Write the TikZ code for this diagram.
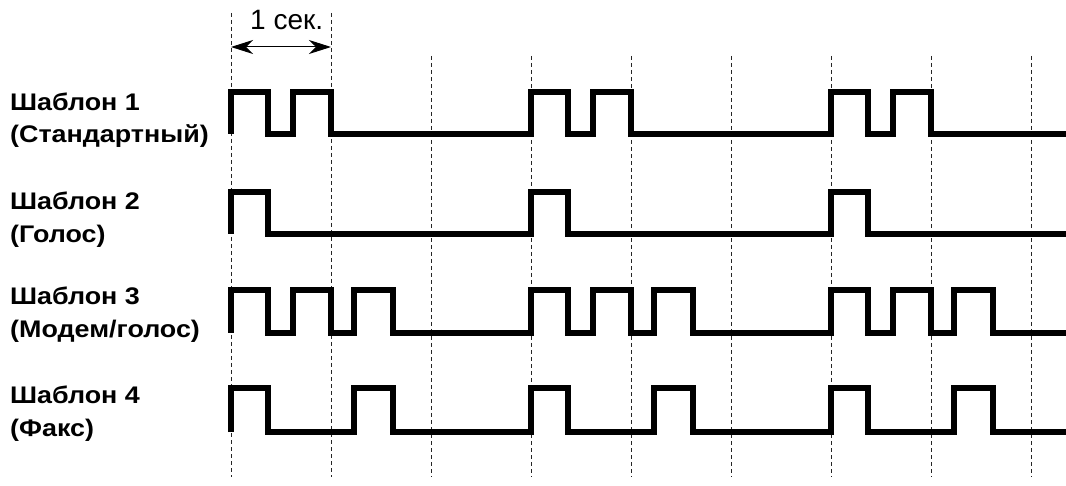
\documentclass[tikz,border=0pt]{standalone}
\usepackage{fontspec}
\setmainfont{Liberation Sans}
\newfontfamily\lblfont{Liberation Sans}[FakeStretch=1.12]
\newfontfamily\secfont{Liberation Sans}
\usetikzlibrary{arrows.meta}
\tikzset{
  grid/.style={line width=1pt, dash pattern=on 4pt off 3pt, black!85},
  wave/.style={line width=5.5pt, line join=miter, line cap=butt},
  lbl/.style={anchor=base west, inner sep=0pt, font=\lblfont\fontsize{24}{28}\selectfont\bfseries},
  seclbl/.style={anchor=base west, inner sep=0pt, font=\secfont\fontsize{28}{32}\selectfont},
  span/.style={line width=1pt, {Stealth[length=22pt,width=14pt,inset=7pt]}-{Stealth[length=22pt,width=14pt,inset=7pt]}}
}
\begin{document}
\begin{tikzpicture}[x=1pt,y=-1pt]
\useasboundingbox (0,0) rectangle (1066,486);
% grid lines
\draw[grid] (231,13) -- (231,477);
\draw[grid] (331,13) -- (331,477);
\foreach \x in {431,531,631,731,831,931,1031}
  \draw[grid] (\x,56) -- (\x,477);
% time span
\coordinate (sa) at (231,47);
\coordinate (sb) at (331,47);
\draw[span] (sa) -- (sb);
\node[seclbl] (sec) at (250,30) {1 сек.};
% labels
\node[lbl] (l1a) at (10,111) {Шаблон 1};
\node[lbl] (l1b) at (10,143) {(Стандартный)};
\node[lbl] (l2a) at (10,210) {Шаблон 2};
\node[lbl] (l2b) at (10,243) {(Голос)};
\node[lbl] (l3a) at (10,305) {Шаблон 3};
\node[lbl] (l3b) at (10,338) {(Модем/голос)};
\node[lbl] (l4a) at (10,403) {Шаблон 4};
\node[lbl] (l4b) at (10,436) {(Факс)};
% waveform 1
\def\h{92}\def\l{134}
\draw[wave] (231,\l)
  \foreach \s in {231,531,831}{
    -- (\s,\l) -- (\s,\h) -- (\s+37,\h) -- (\s+37,\l) -- (\s+62,\l) -- (\s+62,\h) -- (\s+100,\h) -- (\s+100,\l)
  } -- (1066,\l);
% waveform 2
\def\h{192}\def\l{234}
\draw[wave] (231,\l)
  \foreach \s in {231,531,831}{
    -- (\s,\l) -- (\s,\h) -- (\s+37,\h) -- (\s+37,\l)
  } -- (1066,\l);
% waveform 3
\def\h{290}\def\l{333}
\draw[wave] (231,\l)
  \foreach \s in {231,531,831}{
    -- (\s,\l) -- (\s,\h) -- (\s+37,\h) -- (\s+37,\l) -- (\s+62,\l) -- (\s+62,\h) -- (\s+100,\h) -- (\s+100,\l) -- (\s+123,\l) -- (\s+123,\h) -- (\s+162,\h) -- (\s+162,\l)
  } -- (1066,\l);
% waveform 4
\def\h{388}\def\l{432}
\draw[wave] (231,\l)
  \foreach \s in {231,531,831}{
    -- (\s,\l) -- (\s,\h) -- (\s+37,\h) -- (\s+37,\l) -- (\s+123,\l) -- (\s+123,\h) -- (\s+162,\h) -- (\s+162,\l)
  } -- (1066,\l);
\end{tikzpicture}
\end{document}
